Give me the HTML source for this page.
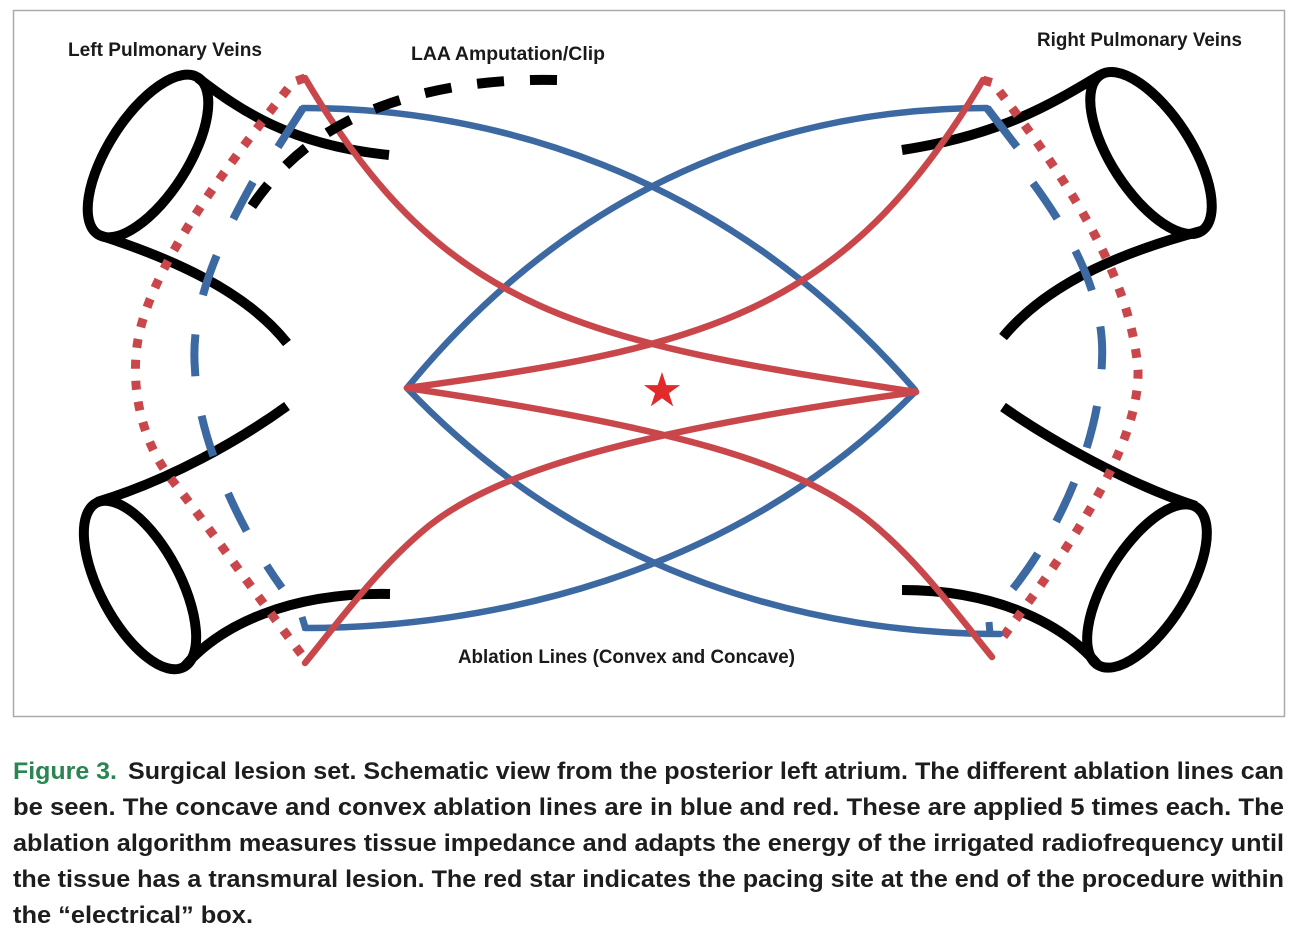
<!DOCTYPE html>
<html>
<head>
<meta charset="utf-8">
<style>
html,body{margin:0;padding:0;background:#fff;}
svg{display:block;}
</style>
</head>
<body>
<svg width="1300" height="952" viewBox="0 0 1300 952" xmlns="http://www.w3.org/2000/svg" font-family="'Liberation Sans', Arial, sans-serif">
<rect x="0" y="0" width="1300" height="952" fill="#fff"/>
<rect x="13.5" y="10.5" width="1271" height="706" fill="none" stroke="#aaaaaa" stroke-width="1.5"/>

<!-- Black pulmonary veins -->
<g fill="none" stroke="#000" stroke-width="10" stroke-linecap="butt">
  <!-- top-left -->
  <ellipse cx="148" cy="156" rx="93" ry="40" transform="rotate(-57.5 148 156)"/>
  <path d="M198,78 C 240,110 290,145 389,155"/>
  <path d="M99,235 C 170,258 245,290 287,343"/>
  <!-- bottom-left -->
  <path d="M287,406 C 240,440 170,480 97,502"/>
  <ellipse cx="140" cy="585" rx="93" ry="40" transform="rotate(62 140 585)"/>
  <path d="M184,667 C 220,625 290,592 390,594"/>
  <!-- top-right -->
  <ellipse cx="1151" cy="153" rx="93" ry="40" transform="rotate(57 1151 153)"/>
  <path d="M1100,75 C 1050,105 1000,135 902,150"/>
  <path d="M1201,231 C 1130,250 1050,280 1003,337"/>
  <!-- bottom-right -->
  <path d="M1003,407 C 1050,440 1130,485 1196,506"/>
  <ellipse cx="1147" cy="586" rx="93" ry="40" transform="rotate(-58 1147 586)"/>
  <path d="M1098,665 C 1060,620 990,590 902,590"/>
</g>

<!-- Red dotted lines -->
<g fill="none" stroke="#c9474b" stroke-width="9" stroke-dasharray="9 12">
  <path d="M305,78 L293,82 C 240,150 160,250 140,330 C 128,380 140,440 172,480 C 205,522 260,600 302,655"/>
  <path d="M983,80 L993,83 C 1060,170 1130,270 1138,370 C 1140,450 1060,560 1003,637"/>
</g>

<!-- Blue dashed lines -->
<g fill="none" stroke="#3c69a2" stroke-width="8">
  <path d="M253,182 C 215,250 190,310 195,370 C 198,440 240,530 282,588" stroke-dasharray="42 40"/>
  <path d="M1033,183 C 1075,240 1105,300 1102,360 C 1100,440 1060,530 1012,590" stroke-dasharray="43 37"/>
  <!-- hooks -->
  <path d="M278,147 L303,108"/>
  <path d="M1017,147 L987,108"/>
  <path d="M302,617 L306,630" stroke-width="7"/>
  <path d="M989,622 L990,634" stroke-width="7"/>
</g>

<!-- Blue solid ablation lines -->
<g fill="none" stroke="#3c69a2" stroke-width="6.5" stroke-linecap="round">
  <path d="M303,108 C 480,108 720,165 915,390"/>
  <path d="M987,108 C 810,108 590,165 407,388"/>
  <path d="M305,628 C 480,628 730,580 915,392"/>
  <path d="M1000,634 C 820,634 590,580 407,388"/>
</g>

<!-- Red solid ablation lines -->
<g fill="none" stroke="#c9474b" stroke-width="6.5" stroke-linecap="round">
  <path d="M305,78 C 445,316 586,342 916,392"/>
  <path d="M983,80 C 843,318 697,348 407,388"/>
  <path d="M305,663 C 340,620 380,565 430,525 C 500,470 640,430 916,392"/>
  <path d="M992,657 C 957,614 917,559 867,519 C 797,464 680,428 407,388"/>
</g>

<!-- LAA amputation/clip dashed -->
<path d="M557,80 C 470,78 400,95 350,120 C 310,140 275,170 248,212" fill="none" stroke="#000" stroke-width="10" stroke-dasharray="27 26"/>

<!-- Red star -->
<polygon points="662,372 666.3,385.1 680.1,385.1 668.9,393.2 673.2,406.4 662,398.3 650.8,406.4 655.1,393.2 643.9,385.1 657.7,385.1" fill="#e12a2a"/>

<!-- Labels -->
<g font-weight="bold" font-size="19" fill="#1a1a1a">
  <text x="68" y="56" textLength="194" lengthAdjust="spacingAndGlyphs">Left Pulmonary Veins</text>
  <text x="411" y="60" textLength="194" lengthAdjust="spacingAndGlyphs">LAA Amputation/Clip</text>
  <text x="1037" y="46" textLength="205" lengthAdjust="spacingAndGlyphs">Right Pulmonary Veins</text>
  <text x="458" y="663" textLength="337" lengthAdjust="spacingAndGlyphs">Ablation Lines (Convex and Concave)</text>
</g>

<!-- Caption -->
<g font-weight="bold" font-size="24" fill="#1d1d1d">
  <text x="13" y="779" textLength="104" lengthAdjust="spacingAndGlyphs" fill="#2a8553">Figure 3.</text>
  <text x="128" y="779" textLength="1156" lengthAdjust="spacingAndGlyphs">Surgical lesion set. Schematic view from the posterior left atrium. The different ablation lines can</text>
  <text x="13" y="815" textLength="1271" lengthAdjust="spacingAndGlyphs">be seen. The concave and convex ablation lines are in blue and red. These are applied 5 times each. The</text>
  <text x="13" y="851" textLength="1271" lengthAdjust="spacingAndGlyphs">ablation algorithm measures tissue impedance and adapts the energy of the irrigated radiofrequency until</text>
  <text x="13" y="887" textLength="1271" lengthAdjust="spacingAndGlyphs">the tissue has a transmural lesion. The red star indicates the pacing site at the end of the procedure within</text>
  <text x="13" y="923" textLength="240" lengthAdjust="spacingAndGlyphs">the “electrical” box.</text>
</g>
</svg>
</body>
</html>
